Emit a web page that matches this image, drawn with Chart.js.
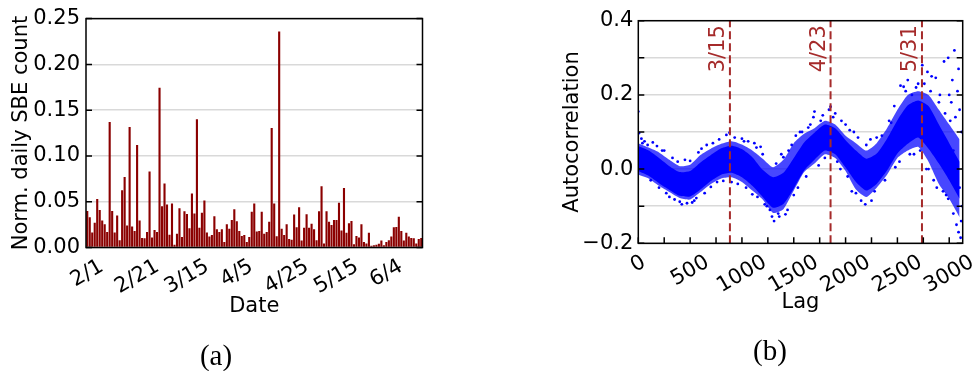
<!DOCTYPE html>
<html>
<head>
<meta charset="utf-8">
<script src="https://cdn.jsdelivr.net/npm/chart.js@4/dist/chart.umd.min.js"></script>
<style>
  body { margin: 0; background: #fff; width: 974px; height: 371px; overflow: hidden; position: relative; }
  canvas { position: absolute; top: 0; }
  #chartA { left: 0; }
  #chartB { left: 460px; }
  .panel { position: absolute; font-family: "Liberation Serif", serif; font-size: 29px; color: #000; transform: translate(-50%, -50%); }
</style>
</head>
<body>
<canvas id="chartA" width="440" height="371"></canvas>
<canvas id="chartB" width="514" height="371"></canvas>
<div class="panel" style="left:216px; top:355px;">(a)</div>
<div class="panel" style="left:770px; top:350px;">(b)</div>
<script>
// (a) normalized daily SBE count, one bar per day
const sbeCount = [
  0.040, 0.033, 0.0165, 0.027, 0.053, 0.041, 0.0295, 0.0255, 0.017, 0.137,
  0.040, 0.0165, 0.035, 0.008, 0.0626, 0.077, 0.024, 0.1317, 0.023, 0.018,
  0.112, 0.0295, 0.0104, 0.010, 0.017, 0.083, 0.011, 0.019, 0.017, 0.1745,
  0.045, 0.070, 0.047, 0.014, 0.048, 0.003, 0.015, 0.043, 0.0115, 0.0396,
  0.0367, 0.021, 0.059, 0.037, 0.140, 0.0216, 0.038, 0.0514, 0.0165, 0.012,
  0.0137, 0.034, 0.020, 0.017, 0.020, 0.006, 0.0255, 0.0205, 0.030, 0.0417,
  0.0288, 0.018, 0.0126, 0.0137, 0.006, 0.0115, 0.039, 0.048, 0.0176, 0.018,
  0.039, 0.015, 0.017, 0.028, 0.1306, 0.048, 0.0122, 0.236, 0.0205, 0.0137,
  0.0255, 0.0094, 0.0086, 0.036, 0.022, 0.044, 0.0076, 0.0216, 0.0363, 0.0216,
  0.026, 0.020, 0.008, 0.0396, 0.067, 0.0043, 0.0396, 0.028, 0.0245, 0.030,
  0.030, 0.049, 0.0187, 0.065, 0.016, 0.0266, 0.029, 0.0036, 0.0126, 0.0108,
  0.0255, 0.006, 0.0043, 0.016, 0.002, 0.0025, 0.003, 0.004, 0.0076, 0.0025,
  0.006, 0.008, 0.012, 0.022, 0.0223, 0.0335, 0.018, 0.0076, 0.016, 0.012,
  0.0104, 0.010, 0.0043, 0.0094, 0.0104
];
const dateTickIdx = [0, 20, 40, 60, 80, 100, 120];
const dateTickLabels = ["2/1", "2/21", "3/15", "4/5", "4/25", "5/15", "6/4"];

// (b) autocorrelation cloud, read off as bands: outer edge of the sparse fringe,
// edge of the dense core, and the stray points outside both
const lags = [0, 100, 200, 300, 400, 500, 600, 700, 800, 900, 1000, 1100, 1200, 1300, 1400, 1500,
  1600, 1700, 1800, 1900, 2000, 2100, 2200, 2300, 2400, 2500, 2600, 2700, 2800, 2900, 3000, 3100];
const acfHigh = [0.070, 0.058, 0.045, 0.025, 0.008, 0.012, 0.038, 0.055, 0.068, 0.075, 0.066, 0.050,
  0.028, 0.005, 0.025, 0.070, 0.095, 0.110, 0.130, 0.120, 0.090, 0.070, 0.050, 0.070, 0.110, 0.160,
  0.200, 0.210, 0.200, 0.160, 0.120, 0.080];
const acfLow = [-0.015, -0.025, -0.045, -0.062, -0.078, -0.082, -0.062, -0.040, -0.025, -0.022, -0.035,
  -0.058, -0.082, -0.118, -0.108, -0.058, -0.008, 0.015, 0.040, 0.030, -0.005, -0.055, -0.075, -0.050,
  -0.015, 0.030, 0.050, 0.060, 0.020, -0.040, -0.080, -0.130];
const coreHigh = [0.062, 0.050, 0.030, 0.008, -0.008, -0.005, 0.018, 0.038, 0.056, 0.063, 0.054, 0.032,
  -0.002, -0.022, -0.010, 0.030, 0.072, 0.098, 0.120, 0.110, 0.078, 0.050, 0.028, 0.042, 0.082, 0.132,
  0.172, 0.185, 0.170, 0.120, 0.070, 0.020];
const coreLow = [-0.005, -0.018, -0.038, -0.056, -0.072, -0.074, -0.055, -0.032, -0.015, -0.010, -0.022,
  -0.045, -0.075, -0.104, -0.094, -0.052, -0.004, 0.025, 0.050, 0.040, 0.004, -0.035, -0.058, -0.040,
  -0.004, 0.042, 0.068, 0.085, 0.055, 0.015, -0.030, -0.080];
const strayLags = [0, 8, 30, 60, 140, 180, 250, 300, 350, 420, 470, 520, 560, 610, 660, 720, 780, 850,
  880, 930, 1000, 1060, 1120, 1180, 1150, 1240, 1270, 1290, 1310, 1350, 1420, 1380, 1450, 1520, 1560,
  1640, 1690, 1700, 1760, 1840, 1855, 1900, 1960, 2000, 1950, 2080, 2060, 2150, 2190, 2250, 2240, 2350,
  2420, 2470, 2530, 2560, 2600, 2640, 2700, 2740, 2790, 2830, 2870, 2660, 2780, 2850, 2910, 2950, 2990,
  3050, 3030, 3080, 3100, 2940, 2990, 3040, 3070, 3090, 3110, 3115, 3060, 3020,
  40, 90, 120, 200, 230, 270, 330, 380, 400, 450, 500, 540, 580, 640, 700, 760, 820, 900, 960, 1020,
  1040, 1100, 1140, 1200, 1220, 1330, 1360, 1400, 1440, 1480, 1500, 1540, 1580, 1620, 1660, 1740, 1780,
  1800, 1880, 1920, 2020, 2040, 2100, 2120, 2200, 2280, 2300, 2380, 2440, 2480, 2520, 2580, 2620, 2680,
  2720, 2760, 2800, 2820, 2880, 2900, 2960, 2970, 3010, 3040, 3070, 3100, 3120, 3125, 3000, 3090];
const strayAcf = [0.155, 0.097, 0.082, 0.075, 0.072, 0.062, 0.050, -0.075, -0.082, -0.095, -0.092, -0.090,
  -0.078, 0.055, 0.065, 0.070, 0.080, 0.092, 0.098, 0.085, 0.082, 0.075, 0.070, 0.060, -0.075, -0.100,
  -0.110, -0.128, -0.140, -0.120, -0.122, 0.040, 0.050, 0.090, 0.100, 0.112, 0.140, 0.155, 0.130, 0.160,
  0.168, 0.150, 0.130, 0.120, 0.000, 0.100, -0.060, -0.085, -0.095, -0.085, 0.080, 0.090, 0.130, 0.170,
  0.225, 0.222, 0.240, 0.200, 0.230, 0.280, 0.262, 0.250, 0.246, 0.040, 0.000, -0.030, 0.200, 0.290,
  0.300, 0.320, 0.240, 0.210, 0.160, -0.060, -0.080, -0.120, -0.150, -0.170, -0.185, -0.140, 0.140, 0.180,
  0.070, 0.065, -0.030, -0.050, 0.050, -0.065, 0.030, 0.020, -0.088, 0.025, 0.022, -0.085, 0.045, -0.065,
  -0.048, -0.035, -0.032, -0.035, -0.040, 0.075, -0.050, -0.068, 0.058, 0.040, -0.095, 0.015, -0.128,
  0.032, -0.110, 0.065, -0.070, -0.050, 0.100, -0.020, 0.120, 0.010, 0.145, 0.030, 0.140, 0.020, -0.020,
  0.105, -0.065, 0.085, 0.065, -0.060, 0.085, -0.030, 0.125, 0.005, 0.020, 0.210, 0.040, 0.220, 0.050,
  0.230, 0.000, 0.210, -0.050, 0.180, 0.150, -0.070, 0.130, 0.050, 0.000, -0.050, 0.100, -0.100, 0.200,
  0.270];
const markerLags = [884, 1855, 2737];
const markerLabels = ["3/15", "4/23", "5/31"];
const lagTicks = [0, 500, 1000, 1500, 2000, 2500, 3000];

Chart.defaults.font.family = '"DejaVu Sans", sans-serif';
Chart.defaults.font.size = 21;
Chart.defaults.color = '#000';

const FONT = '21px "DejaVu Sans", sans-serif';
const darkRed = '#a52a2a';

// black box round the plot area plus short inward tick marks
const frame = {
  id: 'frame',
  afterDraw(chart, args, opts) {
    const { ctx, chartArea: a } = chart;
    ctx.save();
    ctx.strokeStyle = '#000';
    ctx.lineWidth = 1.5;
    const ys = chart.scales.y;
    ys.ticks.forEach(t => {
      const py = ys.getPixelForValue(t.value);
      ctx.beginPath();
      ctx.moveTo(a.left, py); ctx.lineTo(a.left + 6, py);
      ctx.moveTo(a.right, py); ctx.lineTo(a.right - 6, py);
      ctx.stroke();
    });
    if (opts.xTicks) {
      const xs = chart.scales.x;
      opts.xTicks.forEach(v => {
        const px = xs.getPixelForValue(v);
        ctx.beginPath();
        ctx.moveTo(px, a.bottom); ctx.lineTo(px, a.bottom - 6);
        ctx.stroke();
      });
    }
    ctx.strokeRect(a.left, a.top, a.right - a.left, a.bottom - a.top);
    ctx.restore();
  }
};

// x tick labels turned 30 degrees and centred under the tick, like matplotlib
const rotTicks = {
  id: 'rotTicks',
  afterDraw(chart, args, opts) {
    const { ctx, chartArea: a } = chart;
    const xs = chart.scales.x;
    const ang = Math.PI / 6;
    ctx.save();
    ctx.font = FONT;
    ctx.fillStyle = '#000';
    ctx.textAlign = 'center';
    ctx.textBaseline = 'middle';
    opts.values.forEach((v, k) => {
      const text = opts.labels[k];
      const w = ctx.measureText(text).width, h = 20;
      const bh = w * Math.sin(ang) + h * Math.cos(ang);
      ctx.save();
      ctx.translate(xs.getPixelForValue(v), a.bottom + opts.gap + bh / 2);
      ctx.rotate(-ang);
      ctx.fillText(text, 0, 0);
      ctx.restore();
    });
    ctx.restore();
  }
};

// date names beside the dashed lines in (b)
const markerText = {
  id: 'markerText',
  afterDatasetsDraw(chart, args, opts) {
    const { ctx, chartArea: a } = chart;
    const xs = chart.scales.x;
    ctx.save();
    ctx.font = FONT;
    ctx.fillStyle = darkRed;
    ctx.textAlign = 'right';
    ctx.textBaseline = 'middle';
    markerLags.forEach((l, k) => {
      ctx.save();
      ctx.translate(xs.getPixelForValue(l) - 11, a.top + 4.5);
      ctx.rotate(-Math.PI / 2);
      ctx.fillText(markerLabels[k], 0, 0);
      ctx.restore();
    });
    ctx.restore();
  }
};

new Chart(document.getElementById('chartA'), {
  type: 'bar',
  data: {
    labels: sbeCount.map((_, i) => i),
    datasets: [{
      data: sbeCount,
      backgroundColor: '#8b0000',
      barPercentage: 1,
      categoryPercentage: 0.85
    }]
  },
  options: {
    responsive: false,
    animation: false,
    devicePixelRatio: 1,
    layout: { padding: { top: 16, right: 17.5, left: 9.4, bottom: 51.5 } },
    plugins: {
      legend: { display: false },
      tooltip: { enabled: false },
      rotTicks: { values: dateTickIdx, labels: dateTickLabels, gap: 9 }
    },
    scales: {
      x: {
        grid: { display: false },
        border: { display: false },
        ticks: { display: false },
        title: { display: true, text: 'Date', padding: 0 },
        afterFit: s => { s.height = 72; }
      },
      y: {
        min: 0, max: 0.25,
        ticks: { stepSize: 0.05, padding: 6, callback: v => v.toFixed(2) },
        grid: { color: '#d9d9d9', lineWidth: 1.5, drawTicks: false },
        border: { display: false },
        title: { display: true, text: 'Norm. daily SBE count', padding: 0 },
        afterFit: s => { s.width = 76.6; }
      }
    }
  },
  plugins: [frame, rotTicks]
});

const markerSets = markerLags.map(l => ({
  type: 'line',
  data: [{ x: l, y: -0.2 }, { x: l, y: 0.4 }],
  borderColor: darkRed,
  borderWidth: 2,
  borderDash: [8, 4],
  pointRadius: 0
}));

const bandLine = (vals) => ({
  type: 'line',
  data: lags.map((x, i) => ({ x, y: vals[i] })),
  borderWidth: 0, borderColor: 'rgba(0,0,0,0)', pointRadius: 0, tension: 0.2
});

new Chart(document.getElementById('chartB'), {
  type: 'scatter',
  data: {
    datasets: [
      ...markerSets,
      { data: strayLags.map((x, i) => ({ x, y: strayAcf[i] })),
        backgroundColor: '#0000ff', borderWidth: 0, pointRadius: 1.4 },
      { ...bandLine(coreHigh), fill: false },
      { ...bandLine(coreLow), fill: '-1', backgroundColor: '#0000ff' },
      { ...bandLine(acfHigh), fill: false },
      { ...bandLine(acfLow), fill: '-1', backgroundColor: 'rgba(0,0,255,0.72)' }
    ]
  },
  options: {
    responsive: false,
    animation: false,
    devicePixelRatio: 1,
    layout: { padding: { top: 20.7, right: 11.3, left: 99.9, bottom: 55.4 } },
    plugins: {
      legend: { display: false },
      tooltip: { enabled: false },
      frame: { xTicks: [0, 250, 500, 750, 1000, 1250, 1500, 1750, 2000, 2250, 2500, 2750, 3000] },
      rotTicks: { values: lagTicks, labels: lagTicks.map(String), gap: 9 }
    },
    scales: {
      x: {
        type: 'linear', min: 0, max: 3130,
        grid: { display: false },
        border: { display: false },
        ticks: { display: false, stepSize: 250 },
        title: { display: true, text: 'Lag', padding: 0 },
        afterFit: s => { s.height = 72.3; }
      },
      y: {
        min: -0.2, max: 0.4,
        ticks: {
          stepSize: 0.1, padding: 5,
          callback: v => {
            const k = Math.round(v * 10);
            if (k % 2 !== 0) return '';
            if (k === 0) return '0.0';
            return (k / 10).toFixed(1).replace('-', '\u2212');
          }
        },
        grid: { color: '#d9d9d9', lineWidth: 1.5, drawTicks: false },
        border: { display: false },
        title: { display: true, text: 'Autocorrelation', padding: 0 },
        afterFit: s => { s.width = 78.4; }
      }
    }
  },
  plugins: [frame, rotTicks, markerText]
});
</script>
</body>
</html>
